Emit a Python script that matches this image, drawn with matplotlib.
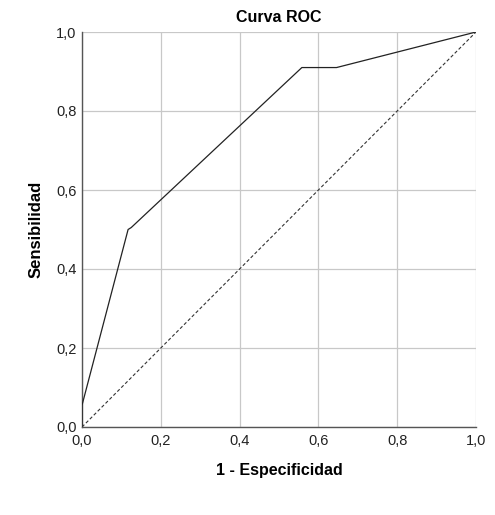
import matplotlib
matplotlib.use("Agg")
import matplotlib.pyplot as plt
from matplotlib.ticker import FuncFormatter

fpr = [0.0, 0.0, 0.117, 0.125, 0.558, 0.646, 1.0]
tpr = [0.0, 0.055, 0.50, 0.505, 0.91, 0.91, 1.0]
ref = [0.0, 1.0]
ticks = [0.0, 0.2, 0.4, 0.6, 0.8, 1.0]

plt.rcParams['font.family'] = ['Liberation Sans', 'DejaVu Sans']
fig = plt.figure(figsize=(4.95, 5.15), dpi=100)
ax = fig.add_axes([82/495, 1-427/515, 394/495, 395/515])
ax.plot(fpr, tpr, color='#222222', lw=0.9, zorder=3)
ax.plot(ref, ref, color='#333333', lw=0.8, ls=(0, (3, 2)), zorder=3)
ax.set_xlim(0, 1)
ax.set_ylim(0, 1)
ax.set_xticks(ticks)
ax.set_yticks(ticks)
fmt = FuncFormatter(lambda v, p: f"{v:.1f}".replace('.', ','))
ax.xaxis.set_major_formatter(fmt)
ax.yaxis.set_major_formatter(fmt)
ax.grid(True, color='#c8c8c8', lw=0.9, zorder=0)
for s in ['top', 'right']:
    ax.spines[s].set_visible(False)
for s in ['left', 'bottom']:
    ax.spines[s].set_color('#555555')
    ax.spines[s].set_linewidth(1.0)
ax.tick_params(axis='y', length=0, labelsize=10.5, pad=4, colors='#222222')
ax.tick_params(axis='x', length=0, labelsize=10.5, pad=5, colors='#222222')
ax.set_title('Curva ROC', fontsize=11.5, fontweight='bold', pad=7)
ax.set_xlabel('1 - Especificidad', fontsize=11.5, fontweight='bold', labelpad=11)
ax.set_ylabel('Sensibilidad', fontsize=12, fontweight='bold', labelpad=9)
fig.savefig('out.png', dpi=100)
